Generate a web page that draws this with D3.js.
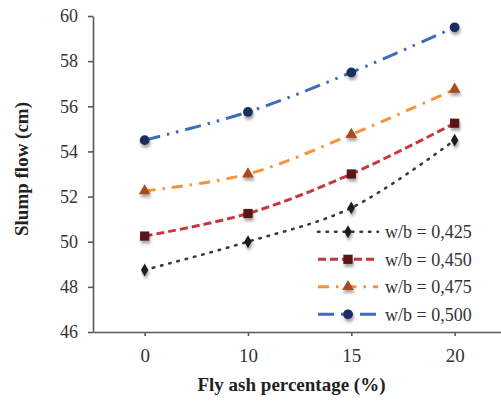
<!DOCTYPE html>
<html>
<head>
<meta charset="utf-8">
<script src="https://cdn.jsdelivr.net/npm/d3@7"></script>
</head>
<body style="margin:0">
<script>
// ---- data ----
const categories = ["0", "10", "15", "20"];
const yTicks = [46, 48, 50, 52, 54, 56, 58, 60];
const seriesNames = ["w/b = 0,425", "w/b = 0,450", "w/b = 0,475", "w/b = 0,500"];
const wb0425 = [48.75, 50.0, 51.5, 54.5];
const wb0450 = [50.25, 51.25, 53.0, 55.25];
const wb0475 = [52.25, 53.0, 54.75, 56.75];
const wb0500 = [54.5, 55.75, 57.5, 59.5];
const xTitle = "Fly ash percentage (%)";
const yTitle = "Slump flow (cm)";

// ---- styles ----
const styles = [
  { values: wb0425, line: "#3a3a3a", marker: "#1e1e1e", dash: "1.5,7", cap: "round", width: 2.6, shape: d3.symbolDiamond, size: 48 },
  { values: wb0450, line: "#c8373f", marker: "#5a1518", dash: "8,4", cap: "butt", width: 3, shape: d3.symbolSquare, size: 85 },
  { values: wb0475, line: "#f7923a", marker: "#a9491c", dash: "11,7,2.5,7", cap: "butt", width: 3, shape: d3.symbolTriangle, size: 60 },
  { values: wb0500, line: "#3d6bbd", marker: "#1b2f5e", dash: "16,7,2.5,7,2.5,7", cap: "butt", width: 3, shape: d3.symbolCircle, size: 75 }
];

const W = 501, H = 402;
const svg = d3.select("body").append("svg").attr("width", W).attr("height", H).style("display", "block");

const defs = svg.append("defs");
const f = defs.append("filter").attr("id", "shadow").attr("x", "-80%").attr("y", "-80%").attr("width", "260%").attr("height", "260%");
f.append("feDropShadow").attr("dx", 1).attr("dy", 3).attr("stdDeviation", 1.8).attr("flood-color", "#000").attr("flood-opacity", 0.35);

const x = d3.scalePoint().domain(categories).range([93, 506.3]).padding(0.5);
const y = d3.scaleLinear().domain([46, 60]).range([332, 16]);

// axes
const gy = svg.append("g").attr("transform", "translate(93,0)")
  .call(d3.axisLeft(y).tickValues(yTicks).tickSize(5).tickSizeOuter(0).tickPadding(10).tickFormat(d3.format("d")));
gy.attr("font-family", "Times New Roman").attr("font-size", 18);
gy.selectAll("text").style("font-family", "'Times New Roman', monospace").style("font-size", "18px").attr("fill", "#333");
gy.selectAll("line, path").attr("stroke", "#595959").attr("stroke-width", 1.6);

const gx = svg.append("g").attr("transform", "translate(0,332)")
  .call(d3.axisBottom(x).tickSize(4).tickSizeOuter(0));
gx.attr("font-family", "Times New Roman").attr("font-size", 19);
gx.selectAll("text").style("font-family", "'Times New Roman', monospace").style("font-size", "19px").attr("fill", "#333").attr("y", 23).attr("dy", "0.35em");
gx.selectAll("line, path").attr("stroke", "#595959").attr("stroke-width", 1.6);

// titles
svg.append("text").attr("x", 291.5).attr("y", 391).attr("text-anchor", "middle")
  .style("font-family", "'Times New Roman', monospace").style("font-size", "19px").style("font-weight", "bold").attr("fill", "#222").text(xTitle);
svg.append("text").attr("transform", "translate(28,169) rotate(-90)").attr("text-anchor", "middle")
  .style("font-family", "'Times New Roman', monospace").style("font-size", "19px").style("font-weight", "bold").attr("fill", "#222").text(yTitle);

// lines
const line = d3.line().x((d, i) => x(categories[i])).y(d => y(d)).curve(d3.curveCatmullRom.alpha(0.5));
styles.forEach(s => {
  svg.append("path").attr("d", line(s.values)).attr("fill", "none")
    .attr("stroke", s.line).attr("stroke-width", s.width)
    .attr("stroke-dasharray", s.dash).attr("stroke-linecap", s.cap);
});
// markers
styles.forEach(s => {
  svg.append("g").selectAll("path").data(s.values).join("path")
    .attr("d", d3.symbol().type(s.shape).size(s.size))
    .attr("transform", (d, i) => `translate(${x(categories[i])},${y(d)})`)
    .attr("fill", s.marker).attr("filter", "url(#shadow)");
});

// legend
const legY = [231.7, 259.3, 286.7, 314.3];
styles.forEach((s, i) => {
  const g = svg.append("g").attr("transform", `translate(0,${legY[i]})`);
  g.append("line").attr("x1", 318).attr("x2", 378).attr("y1", 0).attr("y2", 0)
    .attr("stroke", s.line).attr("stroke-width", s.width)
    .attr("stroke-dasharray", s.dash).attr("stroke-linecap", s.cap);
  g.append("path").attr("d", d3.symbol().type(s.shape).size(s.size)).attr("transform", "translate(348,0)")
    .attr("fill", s.marker).attr("filter", "url(#shadow)");
  g.append("text").attr("x", 385).attr("y", 0).attr("dy", "0.35em")
    .style("font-family", "'Times New Roman', monospace").style("font-size", "18px").attr("fill", "#333").text(seriesNames[i]);
});
</script>
</body>
</html>
